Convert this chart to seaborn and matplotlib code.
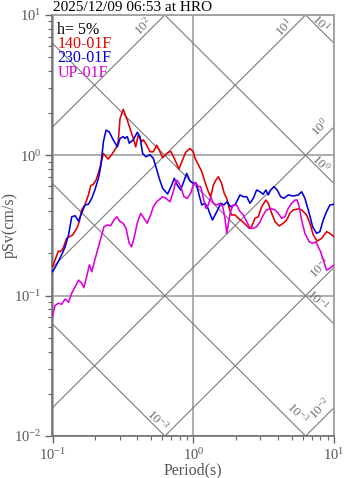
import numpy as np
import pandas as pd
import matplotlib
matplotlib.use("Agg")
import matplotlib.pyplot as plt
import seaborn as sns
from matplotlib.ticker import LogLocator, NullFormatter

# ---------------- data ----------------
period_140 = [0.100, 0.104, 0.110, 0.114, 0.119, 0.126, 0.132, 0.139, 0.149, 0.155,
              0.161, 0.170, 0.180, 0.187, 0.195, 0.204, 0.215, 0.224, 0.230, 0.249,
              0.263, 0.283, 0.293, 0.302, 0.318, 0.340, 0.355, 0.375, 0.390, 0.407,
              0.430, 0.442, 0.467, 0.493, 0.520, 0.550, 0.573, 0.606, 0.647, 0.691,
              0.733, 0.791, 0.849, 0.883, 0.948, 1.00, 1.03, 1.09, 1.15, 1.21,
              1.28, 1.33, 1.39, 1.45, 1.51, 1.59, 1.66, 1.73, 1.80, 1.87,
              1.98, 2.09, 2.24, 2.37, 2.50, 2.60, 2.74, 2.90, 3.06, 3.28,
              3.41, 3.61, 3.81, 4.08, 4.36, 4.61, 4.86, 5.13, 5.57, 5.89,
              6.39, 6.74, 7.12, 7.60, 8.17, 8.86, 9.35, 10.0]
psv_140 = [0.161, 0.178, 0.208, 0.206, 0.218, 0.256, 0.263, 0.271, 0.302, 0.337,
           0.408, 0.443, 0.522, 0.608, 0.622, 0.667, 0.786, 0.926, 1.03, 0.941,
           1.01, 1.13, 1.25, 1.83, 2.13, 1.78, 1.56, 1.32, 1.15, 1.40,
           1.25, 1.29, 1.18, 1.06, 1.06, 1.18, 1.09, 0.961, 1.03, 1.07,
           0.952, 0.799, 0.952, 1.05, 1.12, 1.06, 0.952, 0.853, 0.764, 0.648,
           0.550, 0.507, 0.614, 0.667, 0.704, 0.632, 0.536, 0.494, 0.419, 0.376,
           0.376, 0.356, 0.337, 0.319, 0.302, 0.310, 0.356, 0.365, 0.430, 0.480,
           0.455, 0.386, 0.337, 0.314, 0.328, 0.346, 0.386, 0.408, 0.415, 0.408,
           0.376, 0.328, 0.271, 0.245, 0.256, 0.286, 0.278, 0.263]

period_230 = [0.100, 0.107, 0.116, 0.123, 0.130, 0.137, 0.145, 0.153, 0.161, 0.170,
              0.180, 0.190, 0.200, 0.212, 0.220, 0.230, 0.240, 0.253, 0.270, 0.289,
              0.302, 0.318, 0.327, 0.340, 0.351, 0.375, 0.400, 0.418, 0.437, 0.462,
              0.493, 0.520, 0.543, 0.573, 0.606, 0.658, 0.703, 0.733, 0.770, 0.814,
              0.859, 0.898, 0.948, 1.00, 1.05, 1.10, 1.15, 1.21, 1.26, 1.31,
              1.37, 1.47, 1.57, 1.65, 1.74, 1.84, 1.98, 2.15, 2.27, 2.40,
              2.53, 2.67, 2.82, 2.98, 3.14, 3.28, 3.41, 3.55, 3.74, 3.95,
              4.18, 4.41, 4.73, 5.13, 5.57, 5.89, 6.21, 6.67, 7.05, 7.52,
              7.94, 8.38, 8.86, 9.35, 10.0]
psv_230 = [0.148, 0.166, 0.195, 0.223, 0.271, 0.365, 0.371, 0.340, 0.386, 0.443,
           0.448, 0.494, 0.566, 0.686, 0.829, 1.25, 1.51, 1.47, 1.29, 1.15,
           1.32, 1.36, 1.32, 1.36, 1.22, 1.29, 1.46, 1.36, 1.03, 0.977,
           1.01, 0.952, 0.829, 0.686, 0.582, 0.530, 0.614, 0.686, 0.614, 0.566,
           0.656, 0.744, 0.656, 0.632, 0.632, 0.522, 0.443, 0.455, 0.430, 0.386,
           0.346, 0.397, 0.455, 0.443, 0.467, 0.430, 0.443, 0.522, 0.507, 0.507,
           0.455, 0.494, 0.566, 0.550, 0.528, 0.566, 0.522, 0.566, 0.598, 0.566,
           0.507, 0.494, 0.522, 0.513, 0.522, 0.550, 0.494, 0.386, 0.310, 0.278,
           0.286, 0.346, 0.397, 0.443, 0.448]

period_up = [0.100, 0.104, 0.110, 0.116, 0.123, 0.130, 0.137, 0.145, 0.153, 0.161,
             0.167, 0.175, 0.183, 0.190, 0.200, 0.212, 0.224, 0.232, 0.245, 0.259,
             0.273, 0.286, 0.302, 0.318, 0.333, 0.351, 0.365, 0.379, 0.400, 0.423,
             0.447, 0.471, 0.498, 0.520, 0.550, 0.580, 0.606, 0.640, 0.683, 0.721,
             0.754, 0.782, 0.814, 0.859, 0.907, 0.958, 1.00, 1.03, 1.09, 1.13,
             1.18, 1.23, 1.28, 1.33, 1.39, 1.47, 1.55, 1.62, 1.68, 1.73,
             1.77, 1.84, 1.92, 2.03, 2.15, 2.27, 2.40, 2.53, 2.67, 2.82,
             2.98, 3.14, 3.32, 3.55, 3.81, 4.02, 4.24, 4.48, 4.73, 5.00,
             5.28, 5.48, 5.66, 5.89, 6.21, 6.67, 7.05, 7.44, 7.72, 8.03,
             8.38, 8.86, 9.35, 10.0]
psv_up = [0.0709, 0.0849, 0.0883, 0.0869, 0.0947, 0.0897, 0.104, 0.116, 0.129, 0.123,
          0.114, 0.137, 0.166, 0.148, 0.180, 0.223, 0.271, 0.310, 0.319, 0.315,
          0.346, 0.365, 0.337, 0.328, 0.302, 0.236, 0.223, 0.256, 0.328, 0.386,
          0.356, 0.328, 0.376, 0.430, 0.467, 0.488, 0.507, 0.494, 0.467, 0.550,
          0.667, 0.648, 0.598, 0.507, 0.494, 0.536, 0.614, 0.642, 0.598, 0.598,
          0.494, 0.419, 0.443, 0.507, 0.455, 0.443, 0.455, 0.430, 0.356, 0.278,
          0.319, 0.397, 0.443, 0.443, 0.397, 0.376, 0.337, 0.302, 0.302, 0.310,
          0.335, 0.376, 0.408, 0.419, 0.408, 0.386, 0.356, 0.365, 0.419, 0.455,
          0.480, 0.480, 0.430, 0.346, 0.278, 0.242, 0.236, 0.242, 0.223, 0.206,
          0.180, 0.152, 0.157, 0.166]

components = ["140-01F", "230-01F", "UP-01F"]
colors = ["#e00000", "#0000dc", "#dc00dc"]
damping_label = "h= 5%"
title = "2025/12/09 06:53 at HRO"

# tripartite reference levels
disp_levels = [1e1, 1e0, 1e-1, 1e-2, 1e-3]   # cm
acc_levels = [1e2, 1e1, 1e0, 1e-1, 1e-2]     # cm/s^2

x_ticks = [0.1, 1, 10]
x_ticklabels = ["10$^{-1}$", "10$^{0}$", "10$^{1}$"]
y_ticks = [0.01, 0.1, 1, 10]
y_ticklabels = ["10$^{-2}$", "10$^{-1}$", "10$^{0}$", "10$^{1}$"]

# ---------------- style ----------------
sns.set_theme(style="ticks")
plt.rcParams["font.family"] = ["Liberation Serif", "DejaVu Serif"]
plt.rcParams["mathtext.fontset"] = "custom"
plt.rcParams["mathtext.rm"] = "Liberation Serif"
plt.rcParams["mathtext.it"] = "Liberation Serif:italic"
plt.rcParams["mathtext.bf"] = "Liberation Serif:bold"
plt.rcParams["mathtext.default"] = "rm"

W, H = 347, 478
fig = plt.figure(figsize=(W / 100, H / 100), dpi=100)
fig.patch.set_facecolor("white")
ax = fig.add_axes([52.5 / W, 1 - 436 / H, 281.5 / W, 421 / H])
ax.set_facecolor("white")

df = pd.concat([
    pd.DataFrame({"period": period_140, "psv": psv_140, "component": components[0]}),
    pd.DataFrame({"period": period_230, "psv": psv_230, "component": components[1]}),
    pd.DataFrame({"period": period_up, "psv": psv_up, "component": components[2]}),
], ignore_index=True)

ax.set_xscale("log")
ax.set_yscale("log")

# diagonal lines
Tg = np.logspace(-1, 1, 200)
for d in disp_levels:
    ax.plot(Tg, 2 * np.pi * d / Tg, color="#7a7a7a", lw=0.8, zorder=1)
for a in acc_levels:
    ax.plot(Tg, a * Tg / (2 * np.pi), color="#7a7a7a", lw=0.8, zorder=1)

sns.lineplot(data=df, x="period", y="psv", hue="component", hue_order=components,
             palette=colors, estimator=None, sort=False, legend=False,
             linewidth=1.15, ax=ax, zorder=3)

ax.set_xlim(0.1, 10)
ax.set_ylim(0.01, 10)
ax.set_xlabel("")
ax.set_ylabel("")

ax.grid(True, which="major", color="#a0a0a0", lw=1.2, zorder=0)
ax.set_axisbelow(True)

ax.set_xticks(x_ticks, labels=x_ticklabels)
ax.set_yticks(y_ticks, labels=y_ticklabels)
ax.xaxis.set_minor_locator(LogLocator(base=10, subs=np.arange(2, 10)))
ax.yaxis.set_minor_locator(LogLocator(base=10, subs=np.arange(2, 10)))
ax.xaxis.set_minor_formatter(NullFormatter())
ax.yaxis.set_minor_formatter(NullFormatter())
ax.tick_params(axis="both", which="major", direction="out", length=5, width=1.0,
               color="#666666", labelsize=10.5, labelcolor="#555555", pad=3)
ax.tick_params(axis="both", which="minor", direction="out", length=3, width=0.8,
               color="#666666")

for side in ["left", "bottom"]:
    ax.spines[side].set_color("#666666")
    ax.spines[side].set_linewidth(1.1)
for side in ["top", "right"]:
    ax.spines[side].set_visible(True)
    ax.spines[side].set_color("#a0a0a0")
    ax.spines[side].set_linewidth(1.3)

# labels of the diagonal lines
lab_col = "#707070"
asc_labels = [(0.443, 8.27, "10$^{2}$"), (4.41, 8.2, "10$^{1}$"), (7.94, 1.59, "10$^{0}$"),
              (7.94, 0.1575, "10$^{-1}$"), (7.94, 0.0158, "10$^{-2}$")]
desc_labels = [(8.07, 8.75, "10$^{1}$"), (8.07, 0.881, "10$^{0}$"), (7.69, 0.0932, "10$^{-1}$"),
               (5.54, 0.0146, "10$^{-3}$"), (0.561, 0.0130, "10$^{-3}$")]
for t, v, s in asc_labels:
    ax.text(t, v, s, rotation=45, rotation_mode="anchor", ha="center", va="center",
            fontsize=9.5, color=lab_col, zorder=2)
for t, v, s in desc_labels:
    ax.text(t, v, s, rotation=-45, rotation_mode="anchor", ha="center", va="center",
            fontsize=9.5, color=lab_col, zorder=2)

# legend-like texts
ax_w, ax_h, ax_top = 281.5, 421, 436
def ay(py):
    return (ax_top - py) / ax_h
x_leg = (57.5 - 52.5) / ax_w
ax.text(x_leg, ay(29.5), damping_label, transform=ax.transAxes, fontsize=11.5,
        color="black", va="center", ha="left", zorder=4)
for i, (name, c) in enumerate(zip(components, colors)):
    ax.text(x_leg, ay(44 + 14.5 * i), name, transform=ax.transAxes, fontsize=11.5,
            color=c, va="center", ha="left", zorder=4)

fig.text(53 / W, 1 - 11 / H, title, fontsize=11, color="black", ha="left", va="baseline")
fig.text(9.5 / W, 1 - 225.5 / H, "pSv(cm/s)", rotation=90, fontsize=11.5,
         color="#555555", ha="center", va="center")
fig.text(193 / W, 1 - 470 / H, "Period(s)", fontsize=11.5, color="#555555",
         ha="center", va="center")

fig.savefig("out.png", dpi=100, facecolor="white")
